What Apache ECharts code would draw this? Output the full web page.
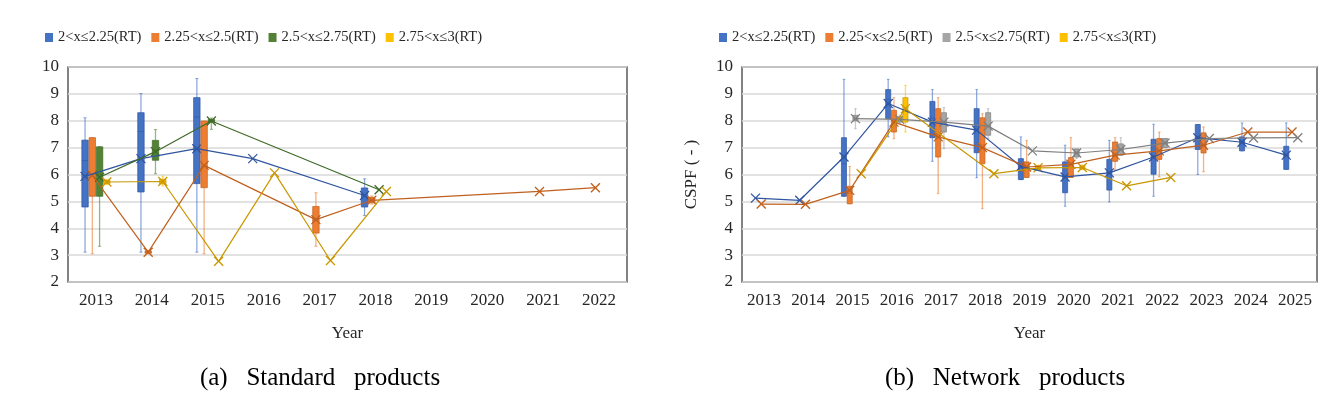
<!DOCTYPE html>
<html>
<head>
<meta charset="utf-8">
<script src="https://cdn.jsdelivr.net/npm/echarts@6/dist/echarts.min.js"></script>
<style>
html,body{margin:0;padding:0;background:#fff;}
#chart{width:1341px;height:400px;}
</style>
</head>
<body>
<div id="chart"></div>
<script>
// ---------- data ----------
const yearsA = ['2013','2014','2015','2016','2017','2018','2019','2020','2021','2022'];
const yearsB = ['2013','2014','2015','2016','2017','2018','2019','2020','2021','2022','2023','2024','2025'];
const namesA = ['2<x≤2.25(RT)','2.25<x≤2.5(RT)','2.5<x≤2.75(RT)','2.75<x≤3(RT)'];
const namesB = ['2<x≤2.25(RT)','2.25<x≤2.5(RT)','2.5<x≤2.75(RT)','2.75<x≤3(RT)'];

// box values: [min, Q1, median, Q3, max]; null = no box
const box1A = [[3.11,4.79,6.52,7.28,8.11],[3.11,5.35,7.6,8.30,9.01],[3.11,5.66,8.14,8.86,9.57],null,null,[4.47,4.79,5.2,5.50,5.84],null,null,null,null];
const mean1A = [5.93,6.59,6.96,6.59,null,5.22,null,null,null,null];
const box2A = [[3.05,5.19,6.0,7.37,7.37],[3.05,3.07,3.11,3.15,3.18],[3.05,5.51,6.3,7.99,7.99],null,[3.33,3.82,4.3,4.81,5.32],[4.9,4.95,5.05,5.15,5.2],null,null,null,null];
const mean2A = [5.97,3.11,6.34,null,4.32,5.04,null,null,5.37,5.51];
const box3A = [[3.33,5.19,6.0,7.03,7.03],[6.03,6.53,6.9,7.27,7.67],[7.68,7.95,8.0,8.05,8.1],null,null,null,null,null,null,null];
const mean3A = [5.9,6.85,7.99,null,null,5.43,null,null,null,null];
const box4A = [[5.62,5.66,5.72,5.78,5.82],[5.57,5.65,5.74,5.82,5.94],null,null,null,null,null,null,null,null];
const mean4A = [5.72,5.74,2.77,6.06,2.8,5.37,null,null,null,null];

const box1B = [null,null,[5.19,5.19,6.4,7.37,9.54],[7.4,8.08,8.8,9.16,9.54],[6.49,7.37,8.1,8.72,9.16],[5.88,6.81,7.8,8.45,9.16],[5.81,5.81,6.3,6.59,7.4],[4.82,5.32,5.95,6.47,7.09],[4.98,5.42,6.1,6.56,7.27],[5.19,6.01,6.7,7.31,7.87],[6.0,6.93,7.4,7.86,7.86],[6.88,6.88,7.2,7.4,7.92],[6.19,6.19,6.7,7.05,7.92]];
const mean1B = [5.12,5.04,6.65,8.64,7.95,7.65,6.3,5.91,6.06,6.65,7.37,7.2,6.72];
const box2B = [null,null,[4.91,4.91,5.3,5.56,6.3],[7.33,7.58,8.0,8.39,8.86],[5.29,6.65,7.5,8.45,8.86],[4.73,6.4,7.1,8.11,8.26],[5.89,5.89,6.2,6.47,7.27],[5.89,5.89,6.4,6.63,7.37],[6.16,6.49,6.8,7.21,7.37],[5.91,6.56,6.9,7.34,7.58],[6.1,6.8,7.1,7.55,7.77],null,null];
const mean2B = [4.9,4.89,5.41,7.95,7.4,7.0,6.28,6.38,6.72,6.88,7.09,7.58,7.58];
const box3B = [null,null,[7.7,8.0,8.08,8.2,8.45],[7.9,7.95,8.05,8.15,8.2],[6.96,7.58,7.95,8.3,8.49],[7.33,7.46,7.8,8.3,8.45],null,[6.6,6.65,6.8,6.95,6.95],[6.72,6.72,6.93,7.14,7.37],[7.0,7.0,7.17,7.34,7.34],null,null,null];
const mean3B = [null,null,8.08,8.05,7.95,7.8,6.88,6.8,6.93,7.17,7.34,7.36,7.37];
const box4B = [null,null,null,[7.58,7.95,8.5,8.86,9.32],null,null,[6.15,6.18,6.25,6.32,6.35],[6.18,6.2,6.26,6.32,6.35],null,null,null,null,null];
const mean4B = [null,null,6.03,8.45,null,6.03,6.25,6.26,5.58,5.89,null,null,null];

// ---------- style ----------
const FONT = '"Liberation Serif", "Times New Roman", serif';
const TXT = '#262626';
const fillsA = ['#4472C4','#ED7D31','#548235','#FFC000'];
const strokesA = ['#2F55A0','#C0601E','#3F6A27','#C99700'];
const fillsB = ['#4472C4','#ED7D31','#A5A5A5','#FFC000'];
const strokesB = ['#2F55A0','#C0601E','#7F7F7F','#C99700'];
const SLOT = [-0.195,-0.065,0.065,0.195];
const BOX_W = 0.115;

function makeRender(fill, stroke) {
  return function (params, api) {
    const x = api.value(0);
    const v = [1,2,3,4,5].map(d => api.value(d));
    const mean = api.value(6);
    const hw = api.size([BOX_W, 0])[0] / 2;
    const children = [];
    if (v.every(n => Number.isFinite(n))) {
      const pLo = api.coord([x, v[0]]), pQ1 = api.coord([x, v[1]]), pMed = api.coord([x, v[2]]),
            pQ3 = api.coord([x, v[3]]), pHi = api.coord([x, v[4]]);
      const cx = pLo[0];
      const cap = hw * 0.5;
      children.push({type:'line', shape:{x1:cx,y1:pHi[1],x2:cx,y2:pLo[1]}, style:{stroke:fill, opacity:0.6, lineWidth:1.3}});
      children.push({type:'line', shape:{x1:cx-cap,y1:pHi[1],x2:cx+cap,y2:pHi[1]}, style:{stroke:fill, opacity:0.6, lineWidth:1}});
      children.push({type:'line', shape:{x1:cx-cap,y1:pLo[1],x2:cx+cap,y2:pLo[1]}, style:{stroke:fill, opacity:0.6, lineWidth:1}});
      children.push({type:'rect', shape:{x:cx-hw, y:pQ3[1], width:2*hw, height:Math.max(pQ1[1]-pQ3[1], 2)}, style:{fill:fill, stroke:stroke, lineWidth:0.7}});
      children.push({type:'line', shape:{x1:cx-hw,y1:pMed[1],x2:cx+hw,y2:pMed[1]}, style:{stroke:stroke, lineWidth:0.8, opacity:0.6}});
    }
    if (Number.isFinite(mean)) {
      const pm = api.coord([x, mean]);
      const s = 4.5;
      children.push({type:'line', shape:{x1:pm[0]-s,y1:pm[1]-s,x2:pm[0]+s,y2:pm[1]+s}, style:{stroke:stroke, lineWidth:1.3}});
      children.push({type:'line', shape:{x1:pm[0]-s,y1:pm[1]+s,x2:pm[0]+s,y2:pm[1]-s}, style:{stroke:stroke, lineWidth:1.3}});
    }
    return {type:'group', children: children};
  };
}

const panels = [
  {years: yearsA, names: namesA, boxes: [box1A,box2A,box3A,box4A], means: [mean1A,mean2A,mean3A,mean4A], fills: fillsA, strokes: strokesA},
  {years: yearsB, names: namesB, boxes: [box1B,box2B,box3B,box4B], means: [mean1B,mean2B,mean3B,mean4B], fills: fillsB, strokes: strokesB}
];

const series = [];
panels.forEach((p, pi) => {
  for (let k = 0; k < 4; k++) {
    const data = [];
    const lineData = [];
    p.years.forEach((y, i) => {
      const b = p.boxes[k][i];
      const m = p.means[k][i];
      if (b || m != null) {
        const bx = b ? b : [NaN,NaN,NaN,NaN,NaN];
        data.push([i + SLOT[k], bx[0], bx[1], bx[2], bx[3], bx[4], m != null ? m : NaN]);
      }
      if (m != null) lineData.push([i + SLOT[k], m]);
    });
    series.push({
      type: 'line', name: p.names[k], xAxisIndex: pi*2+1, yAxisIndex: pi,
      data: lineData, symbol: 'none', z: 3, silent: true,
      lineStyle: {color: p.strokes[k], width: 1.2},
      itemStyle: {color: p.fills[k]}
    });
    series.push({
      type: 'custom', name: p.names[k], xAxisIndex: pi*2+1, yAxisIndex: pi,
      data: data, z: 2, silent: true,
      encode: {x: 0, y: [1,2,3,4,5,6]},
      itemStyle: {color: p.fills[k]},
      renderItem: makeRender(p.fills[k], p.strokes[k])
    });
  }
});

const grids = [
  {left: 68, width: 559, top: 67, height: 215, show: true, borderColor: '#595959', borderWidth: 1.5},
  {left: 742, width: 575, top: 67, height: 215, show: true, borderColor: '#595959', borderWidth: 1.5}
];

function catAxis(gi, years) {
  return {
    type: 'category', gridIndex: gi, data: years, boundaryGap: true,
    axisLine: {show: false}, axisTick: {show: false},
    axisLabel: {fontFamily: FONT, fontSize: 17, color: TXT, margin: 10, interval: 0},
    name: 'Year', nameLocation: 'middle', nameGap: 43,
    nameTextStyle: {fontFamily: FONT, fontSize: 17, color: TXT}
  };
}
function valXAxis(gi, n) {
  return {type: 'value', gridIndex: gi, min: -0.5, max: n - 0.5, show: false};
}
function yAxis(gi, withName) {
  const a = {
    type: 'value', gridIndex: gi, min: 2, max: 10, interval: 1,
    axisLine: {show: false}, axisTick: {show: false},
    axisLabel: {fontFamily: FONT, fontSize: 17, color: TXT, margin: 9},
    splitLine: {lineStyle: {color: '#D9D9D9', width: 1.5}}
  };
  if (withName) {
    a.name = 'CSPF ( - )'; a.nameLocation = 'middle'; a.nameGap = 42; a.nameRotate = 90;
    a.nameTextStyle = {fontFamily: FONT, fontSize: 17, color: TXT};
  }
  return a;
}

function legend(left, p) {
  return {
    left: left, top: 25, icon: 'rect', itemWidth: 8, itemHeight: 9, itemGap: 10, selectedMode: false,
    textStyle: {fontFamily: FONT, fontSize: 14.5, color: TXT},
    data: p.names.map((n, k) => ({name: n, itemStyle: {color: p.fills[k]}}))
  };
}

const option = {
  animation: false,
  backgroundColor: '#ffffff',
  grid: grids,
  xAxis: [catAxis(0, yearsA), valXAxis(0, yearsA.length), catAxis(1, yearsB), valXAxis(1, yearsB.length)],
  yAxis: [yAxis(0, false), yAxis(1, true)],
  legend: [legend(40, panels[0]), legend(714, panels[1])],
  series: series,
  graphic: [
    {type: 'text', x: 320, y: 378, style: {text: '(a)   Standard   products', fontFamily: FONT, fontSize: 25, fill: '#000', textAlign: 'center', textVerticalAlign: 'middle'}},
    {type: 'text', x: 1005, y: 378, style: {text: '(b)   Network   products', fontFamily: FONT, fontSize: 25, fill: '#000', textAlign: 'center', textVerticalAlign: 'middle'}}
  ]
};

const chart = echarts.init(document.getElementById('chart'), null, {renderer: 'canvas'});
chart.setOption(option);
</script>
</body>
</html>
